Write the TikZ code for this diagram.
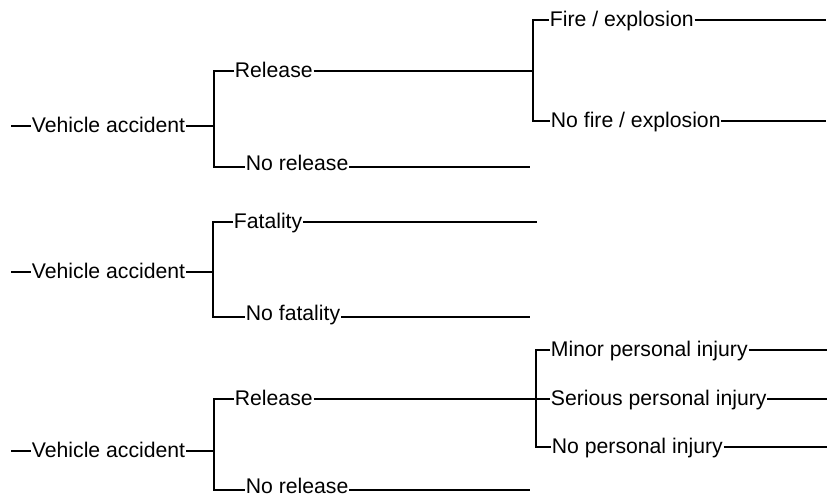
\documentclass[tikz,border=0pt]{standalone}
\usepackage{fontspec}
\setmainfont{Liberation Sans}
\begin{document}
\begin{tikzpicture}[x=0.5pt, y=-0.5pt, line width=0.9pt,
    lbl/.style={inner sep=0pt, anchor=west, font=\fontsize{10.6}{12}\selectfont, text height=6pt, text depth=0pt},
    lbllow/.style={lbl, text height=3pt}]
    \useasboundingbox (0,0) rectangle (827,495);

    % Tree 1: release / fire
    \coordinate (s1) at (11,126);
    \node[lbl] (va1) at (31,126) {Vehicle accident};
    \coordinate (f1) at (214,126);
    \node[lbl] (rel1) at (234,71) {Release};
    \node[lbllow] (norel1) at (245,167) {No release};
    \coordinate (f2) at (533,71);
    \node[lbl] (fire) at (549,20) {Fire / explosion};
    \node[lbl] (nofire) at (550,121) {No fire / explosion};
    \coordinate (e1) at (826,20);
    \coordinate (e2) at (826,121);
    \coordinate (e3) at (530,167);

    \draw (s1) -- (va1.west);
    \draw (va1.east) -- (f1);
    \draw (rel1.west) -| (f1) |- (norel1.west);
    \draw (rel1.east) -- (f2);
    \draw (fire.west) -| (f2) |- (nofire.west);
    \draw (fire.east) -- (e1);
    \draw (nofire.east) -- (e2);
    \draw (norel1.east) -- (e3);

    % Tree 2: fatality
    \coordinate (s2) at (11,272);
    \node[lbl] (va2) at (31,272) {Vehicle accident};
    \coordinate (f3) at (213,272);
    \node[lbl] (fat) at (233,222) {Fatality};
    \node[lbllow] (nofat) at (245,317) {No fatality};
    \coordinate (e4) at (537,222);
    \coordinate (e5) at (530,317);

    \draw (s2) -- (va2.west);
    \draw (va2.east) -- (f3);
    \draw (fat.west) -| (f3) |- (nofat.west);
    \draw (fat.east) -- (e4);
    \draw (nofat.east) -- (e5);

    % Tree 3: release / injury
    \coordinate (s3) at (11,451);
    \node[lbl] (va3) at (31,451) {Vehicle accident};
    \coordinate (f4) at (214,451);
    \node[lbl] (rel3) at (234,399) {Release};
    \node[lbllow] (norel3) at (245,490) {No release};
    \coordinate (f5) at (536,399);
    \node[lbl] (minor) at (550,350) {Minor personal injury};
    \node[lbl] (serious) at (550,399) {Serious personal injury};
    \node[lbl] (noinj) at (551,447) {No personal injury};
    \coordinate (e6) at (827,350);
    \coordinate (e7) at (827,399);
    \coordinate (e8) at (827,447);
    \coordinate (e9) at (530,490);

    \draw (s3) -- (va3.west);
    \draw (va3.east) -- (f4);
    \draw (rel3.west) -| (f4) |- (norel3.west);
    \draw (rel3.east) -- (serious.west);
    \draw (minor.west) -| (f5) |- (noinj.west);
    \draw (minor.east) -- (e6);
    \draw (serious.east) -- (e7);
    \draw (noinj.east) -- (e8);
    \draw (norel3.east) -- (e9);
\end{tikzpicture}
\end{document}
